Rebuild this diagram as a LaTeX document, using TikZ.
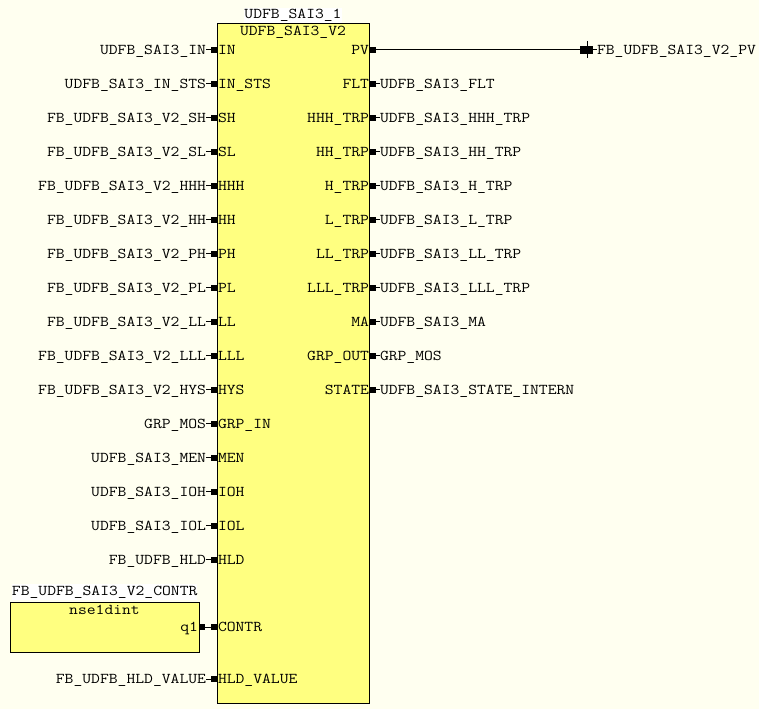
\documentclass[tikz,border=0pt]{standalone}
\usepackage{fontspec}
\setmonofont[FakeStretch=1.143]{Latin Modern Mono}
\definecolor{bgcol}{RGB}{255,255,240}
\definecolor{fbfill}{RGB}{255,255,128}
\tikzset{
  fbbox/.style={draw=black, line width=1pt, fill=fbfill, inner sep=0pt, outer sep=0pt, anchor=north west},
  pinsq/.style={fill=black, draw=none, minimum width=6pt, minimum height=6pt, inner sep=0pt, outer sep=0pt},
  lbl/.style={inner sep=0pt, outer sep=0pt, text=black},
  wire/.style={draw=black, line width=1pt},
}
\begin{document}
\begin{tikzpicture}[x=1pt,y=-1pt, font=\ttfamily\fontsize{15}{15}\selectfont]
\fill[bgcol] (0,0) rectangle (759,709);
\useasboundingbox (0,0) rectangle (759,709);

% main block
\node[fbbox, minimum width=152pt, minimum height=679pt] (fb) at (217,24) {};
\node[lbl, anchor=base] (fbtype) at (293,36) {UDFB\_SAI3\_V2};
\node[lbl, anchor=base, fill=white, inner xsep=0pt, inner ysep=1.5pt] (fbname) at (293,18.5) {UDFB\_SAI3\_1};

% left pins
\foreach \k/\inn/\out in {0/IN/UDFB\_SAI3\_IN, 1/IN\_STS/UDFB\_SAI3\_IN\_STS, 2/SH/FB\_UDFB\_SAI3\_V2\_SH,
  3/SL/FB\_UDFB\_SAI3\_V2\_SL, 4/HHH/FB\_UDFB\_SAI3\_V2\_HHH, 5/HH/FB\_UDFB\_SAI3\_V2\_HH,
  6/PH/FB\_UDFB\_SAI3\_V2\_PH, 7/PL/FB\_UDFB\_SAI3\_V2\_PL, 8/LL/FB\_UDFB\_SAI3\_V2\_LL,
  9/LLL/FB\_UDFB\_SAI3\_V2\_LLL, 10/HYS/FB\_UDFB\_SAI3\_V2\_HYS, 11/GRP\_IN/GRP\_MOS,
  12/MEN/UDFB\_SAI3\_MEN, 13/IOH/UDFB\_SAI3\_IOH, 14/IOL/UDFB\_SAI3\_IOL, 15/HLD/FB\_UDFB\_HLD,
  16/HLD\_VALUE/FB\_UDFB\_HLD\_VALUE}{
  \pgfmathsetmacro{\yy}{\k<16 ? 49.7+34*\k : 679}
  \node[pinsq] (lp\k) at (214,\yy) {};
  \node[lbl, anchor=base west] (li\k) at (218,\yy+4.3) {\inn};
  \node[lbl, anchor=base east] (lo\k) at (206,\yy+4.3) {\out};
  \draw[wire] (lp\k.west) -- (lo\k.east |- lp\k.west);
}

% right pins
\foreach \k/\inn/\out in {1/FLT/UDFB\_SAI3\_FLT, 2/HHH\_TRP/UDFB\_SAI3\_HHH\_TRP,
  3/HH\_TRP/UDFB\_SAI3\_HH\_TRP, 4/H\_TRP/UDFB\_SAI3\_H\_TRP, 5/L\_TRP/UDFB\_SAI3\_L\_TRP,
  6/LL\_TRP/UDFB\_SAI3\_LL\_TRP, 7/LLL\_TRP/UDFB\_SAI3\_LLL\_TRP, 8/MA/UDFB\_SAI3\_MA,
  9/GRP\_OUT/GRP\_MOS, 10/STATE/UDFB\_SAI3\_STATE\_INTERN}{
  \pgfmathsetmacro{\yy}{49.7+34*\k}
  \node[pinsq] (rp\k) at (372.5,\yy) {};
  \node[lbl, anchor=base east] (ri\k) at (369,\yy+4.3) {\inn};
  \node[lbl, anchor=base west] (ro\k) at (380,\yy+4.3) {\out};
  \draw[wire] (rp\k.east) -- (ro\k.west |- rp\k.east);
}

% PV output with connection
\node[pinsq] (rp0) at (372.5,49.7) {};
\node[lbl, anchor=base east] (ri0) at (369,54) {PV};
\node[pinsq, minimum width=13pt, minimum height=8pt] (pvend) at (586.5,49.7) {};
\coordinate (pvtt) at (587,41);
\coordinate (pvtb) at (587,57.5);
\draw[wire] (pvtt) -- (pvtb);
\draw[wire] (rp0.east) -- (pvend.west);
\node[lbl, anchor=base west] (pvlbl) at (597,54) {FB\_UDFB\_SAI3\_V2\_PV};
\draw[wire] (pvend.east) -- (pvlbl.west |- pvend.east);

% nse1dint block
\node[fbbox, minimum width=189pt, minimum height=50pt] (nse) at (10,602) {};
\node[lbl, anchor=base] (nsetype) at (104.5,614) {nse1dint};
\node[lbl, anchor=base west, fill=white, inner ysep=1.5pt] (nsename) at (12,595.3) {FB\_UDFB\_SAI3\_V2\_CONTR};
\node[lbl, anchor=base east] (q1lbl) at (198,631.3) {q1};
\node[pinsq] (q1sq) at (201.5,627) {};
\node[pinsq] (ctsq) at (214,627) {};
\node[lbl, anchor=base west] (ctlbl) at (218,631.3) {CONTR};
\draw[wire] (q1sq.east) -- (ctsq.west);
\end{tikzpicture}
\end{document}
